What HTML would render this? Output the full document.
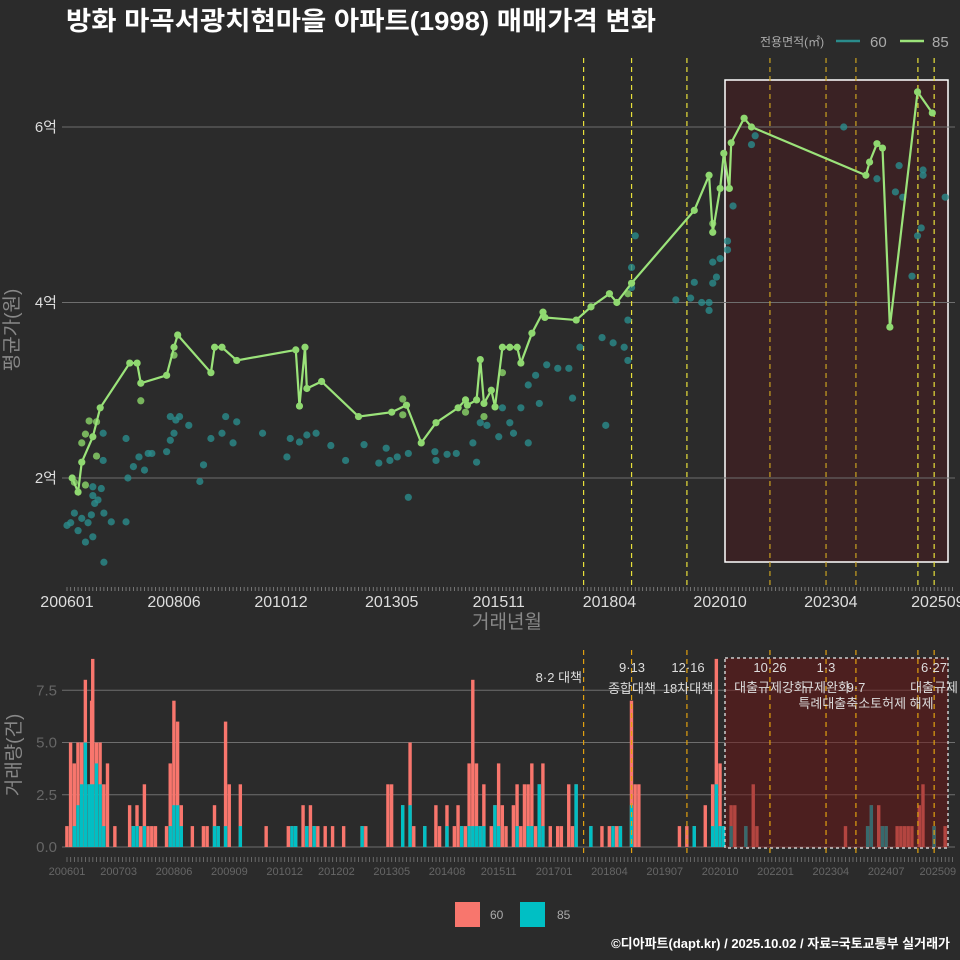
<!DOCTYPE html>
<html><head><meta charset="utf-8">
<style>
body{margin:0;background:#2b2b2b;}
svg{display:block;font-family:"Liberation Sans","Noto Sans CJK KR",sans-serif;}
</style></head>
<body>
<svg id="c" width="960" height="960" viewBox="0 0 960 960">
<rect width="960" height="960" fill="#2b2b2b"/>
<text x="66" y="30" font-size="26" font-weight="bold" fill="#ffffff" textLength="590" lengthAdjust="spacingAndGlyphs">방화 마곡서광치현마을 아파트(1998) 매매가격 변화</text>
<g>
<text x="760" y="46" font-size="12" fill="#aaaaaa">전용면적(㎡)</text>
<line x1="836" y1="41" x2="860" y2="41" stroke="#2a8c8c" stroke-width="2.5"/>
<text x="870" y="47" font-size="15" fill="#aaaaaa">60</text>
<line x1="900" y1="41" x2="924" y2="41" stroke="#9be37a" stroke-width="2.5"/>
<text x="932" y="47" font-size="15" fill="#aaaaaa">85</text>
</g>
<g id="topPanel"></g>
<g id="botPanel"></g>
<text x="18" y="330" font-size="19" fill="#888" transform="rotate(-90 18 330)" text-anchor="middle">평균가(원)</text>
<text x="507" y="628" font-size="19" fill="#888" text-anchor="middle">거래년월</text>
<text x="20" y="755" font-size="19" fill="#888" transform="rotate(-90 20 755)" text-anchor="middle">거래량(건)</text>
<g>
<rect x="455" y="902" width="25" height="25" fill="#f8766d"/>
<text x="490" y="919" font-size="12" fill="#aaa">60</text>
<rect x="520" y="902" width="25" height="25" fill="#00bfc4"/>
<text x="557" y="919" font-size="12" fill="#aaa">85</text>
</g>
<text x="950" y="948" font-size="13" font-weight="bold" fill="#ffffff" text-anchor="end">©디아파트(dapt.kr) / 2025.10.02 / 자료=국토교통부 실거래가</text>
</svg>
<script>
// month index from 200601 = 0
const line85M = [1.4,3,4,7,9,17,19,20,27,29,30,39,40,42,46,62,63,64.5,65,69,79,88,92,96,100,106,108,108.5,111,112,113,115,116,118,120,122,123,126,129,129.5,138,142,147,149,153,170,174,175,177,178,179.5,180,183.5,185.5,216.5,217.5,219.5,221,223,230.5,234.5];
const line85V = [2.0,1.84,2.18,2.47,2.8,3.31,3.31,3.08,3.17,3.49,3.63,3.2,3.49,3.49,3.34,3.46,2.82,3.49,3.02,3.1,2.7,2.75,2.83,2.4,2.63,2.8,2.89,2.83,2.89,3.35,2.85,3.0,2.81,3.49,3.49,3.49,3.31,3.65,3.89,3.83,3.8,3.95,4.1,4.0,4.22,5.05,5.45,4.8,5.3,5.7,5.3,5.82,6.1,6.0,5.45,5.6,5.81,5.76,3.72,6.4,6.16];
const extra85M = [4,5,6,8,8,5,2,20,29,91,91,108,113,118,152,175];
const extra85V = [2.4,2.5,2.65,2.64,2.25,1.92,1.95,2.88,3.4,2.9,2.72,2.75,2.7,3.2,4.1,4.9];
const pts60M = [0,1,2,3,4,5,5.7,6.6,7,7,7,7.5,8.4,9.3,9.8,9.8,10,10,12,16,16,16.5,18,19.5,21,22,23,27,28,29,29.5,30.5,28,33,36,37,39,42,43,45,46,53,59.6,60.5,63,65,67.5,71.5,75.5,80.5,84.5,86.5,87.5,89.5,92.5,92.5,99.7,100,103,105.5,110,111,112,113.8,117,118,120,121,123,125,125,127,128,130,133,136,137,139,145,146,148,151,152,152,153,153,154,165,169,170,172,174,174,175,175,176,177,179,179,180.5,185.5,186.5,210.5,219.5,224.5,225.5,226.5,229,230.5,231.5,232,232,238];
const pts60V = [1.46,1.49,1.6,1.4,1.54,1.27,1.49,1.58,1.33,1.9,1.8,1.71,1.75,1.88,2.2,2.51,1.04,1.6,1.5,1.5,2.45,2.0,2.13,2.24,2.09,2.28,2.28,2.3,2.43,2.51,2.66,2.7,2.7,2.6,1.96,2.15,2.45,2.51,2.7,2.4,2.64,2.51,2.24,2.45,2.41,2.49,2.51,2.37,2.2,2.38,2.17,2.34,2.2,2.24,2.28,1.78,2.3,2.2,2.27,2.28,2.4,2.18,2.63,2.6,2.47,2.8,2.63,2.51,2.8,2.4,3.06,3.17,2.85,3.29,3.25,3.25,2.91,3.49,3.6,2.6,3.54,3.49,3.34,3.8,4.17,4.4,4.76,4.03,4.05,4.23,4.0,4.0,3.91,4.22,4.46,4.29,4.5,4.6,4.7,5.1,5.8,5.9,6.0,5.41,5.26,5.56,5.2,4.3,4.76,4.85,5.51,5.45,5.2];
const volM = [0,1,2,3,4,5,6,6.7,7,8,9,10,11,13,17,18,19,20,21,22,23,24,27,28,29,30,31,34,37,38,40,41,43,44,47,54,60,61,62,64,65,66,67,68,70,72,75,80,81,87,88,91,93,94,97,100,101,103,105,106,107,108,109,110,111,112,113,115,116,117,118,119,121,122,123,124,125,126,127,128,129,131,133,134,136,137,138,142,145,147,148,149,150,153,154,155,166,168,170,173,175,176,177,178,180,181,184,186,187,211,217,218,220,221,222,225,226,227,228,229,231,232,235,238];
const volTotal = [1,5,4,5,5,8,3,7,9,5,5,3,4,1,2,1,2,1,3,1,1,1,1,4,7,6,2,1,1,1,2,1,6,3,3,1,1,1,1,2,1,2,1,1,1,1,1,1,1,3,3,2,5,1,1,2,1,2,1,2,1,1,4,8,4,1,3,1,2,4,2,1,2,3,1,3,3,4,1,3,4,1,1,1,3,1,3,1,1,1,1,1,1,7,3,3,1,1,1,2,3,9,4,1,2,2,1,3,1,1,1,2,2,1,1,1,1,1,1,1,2,3,1,1];
const vol85 = [0,0,1,2,3,5,3,3,3,4,3,1,0,0,0,1,1,0,1,0,0,0,0,1,2,2,1,0,0,0,1,1,1,0,1,0,0,1,1,0,1,0,1,0,0,0,0,1,0,0,0,2,2,0,1,0,0,1,0,0,1,0,1,1,1,1,1,0,2,1,0,0,0,1,0,0,1,1,0,3,1,0,0,0,0,0,3,1,0,0,1,0,1,2,0,0,0,0,1,0,1,3,1,1,1,0,1,0,0,0,1,2,0,1,1,0,0,0,0,0,0,0,1,0];
const policyM = [140,153,168,190.5,205.7,213.8,230.6,235];
const yTicksTop = [2,4,6];
const yTickLabelsTop = ["2억","4억","6억"];
const yTicksBot = [0,2.5,5,7.5];
const yTickLabelsBot = ["0.0","2.5","5.0","7.5"];
const xTickM = [0,29,58,88,117,147,177,207,236];
const xTickLabelsTop = ["200601","200806","201012","201305","201511","201804","202010","202304","202509"];
const xTickMBot = [0,14,29,44,59,73,88,103,117,132,147,162,177,192,207,222,236];
const xTickLabelsBot = ["200601","200703","200806","200909","201012","201202","201305","201408","201511","201701","201804","201907","202010","202201","202304","202407","202509"];

const NS="http://www.w3.org/2000/svg";
function mk(p,tag,a){const e=document.createElementNS(NS,tag);for(const k in a)e.setAttribute(k,a[k]);p.appendChild(e);return e;}
const X=m=>67+m*3.69;
const YT=v=>478-(v-2)*87.75;
const YB=v=>847-v*20.9;
const topG=document.getElementById('topPanel'), botG=document.getElementById('botPanel');

let r=mk(topG,'rect',{x:725,y:80,width:223,height:482,fill:'#3a2224',stroke:'#ffffff','stroke-width':1.5});


yTicksTop.forEach((v,i)=>{
  let g=mk(topG,'line',{x1:62,x2:955,y1:YT(v),y2:YT(v),stroke:'#6e6e6e','stroke-width':1});
  
  
  let t=mk(topG,'text',{x:57,y:YT(v)+5,'font-size':15,fill:'#dddddd','text-anchor':'end'});t.textContent=yTickLabelsTop[i];
  
  
});
policyM.forEach((m,i)=>{
  let l=mk(topG,'line',{x1:X(m),x2:X(m),y1:58,y2:585,stroke:i<3||i>5?'#e8e03a':'#c8a020','stroke-width':1.2,'stroke-dasharray':'5,4'});
  
  
});
pts60M.forEach((m,i)=>{
  let c=mk(topG,'circle',{cx:X(m),cy:YT(pts60V[i]),r:3.6,fill:'#2a8c8c','fill-opacity':0.8});
  
  
});
extra85M.forEach((m,i)=>{
  let c=mk(topG,'circle',{cx:X(m),cy:YT(extra85V[i]),r:3.6,fill:'#86cc66','fill-opacity':0.85});
  
  
});
let pl=mk(topG,'polyline',{points:line85M.map((m,i)=>X(m)+','+YT(line85V[i])).join(' '),fill:'none',stroke:'#9be37a','stroke-width':2.2});


line85M.forEach((m,i)=>{
  let c=mk(topG,'circle',{cx:X(m),cy:YT(line85V[i]),r:3.6,fill:'#8fd870'});
  
  
});
for(let m=0;m<=240;m++){mk(topG,'line',{x1:X(m),x2:X(m),y1:587,y2:591,stroke:'#888','stroke-width':0.8});}
xTickM.forEach((m,i)=>{
  let t=mk(topG,'text',{x:X(m),y:607,'font-size':16,fill:'#dddddd','text-anchor':'middle'});t.textContent=xTickLabelsTop[i];
  
  
});

yTicksBot.forEach((v,i)=>{
  let g=mk(botG,'line',{x1:62,x2:955,y1:YB(v),y2:YB(v),stroke:'#6e6e6e','stroke-width':1});
  
  
  let t=mk(botG,'text',{x:57,y:YB(v)+5,'font-size':15,fill:'#666','text-anchor':'end'});t.textContent=yTickLabelsBot[i];
  
  
});
volM.forEach((m,i)=>{
  let b=mk(botG,'rect',{x:X(m)-1.8,y:YB(volTotal[i]),width:3.4,height:volTotal[i]*20.9,fill:'#f8766d'});
  
  
  if(vol85[i]>0){
    let c=mk(botG,'rect',{x:X(m)-1.8,y:YB(vol85[i]),width:3.4,height:vol85[i]*20.9,fill:'#00bfc4'});
    
    
  }
});
let r2=mk(botG,'rect',{x:725,y:658,width:223,height:190,fill:'rgba(110,20,20,0.5)',stroke:'#cccccc','stroke-width':1.5,'stroke-dasharray':'3,3'});


policyM.forEach(m=>{
  let l=mk(botG,'line',{x1:X(m),x2:X(m),y1:650,y2:857,stroke:'#e0a010','stroke-width':1.2,'stroke-dasharray':'5,4'});
  
  
});
const ann=[[582,682,'8·2 대책','end'],[632,672,'9·13','middle'],[632,693,'종합대책','middle'],[688,672,'12·16','middle'],[688,693,'18차대책','middle'],[770,672,'10·26','middle'],[770,692,'대출규제강화','middle'],[826,672,'1·3','middle'],[826,692,'규제완화','middle'],[856,692,'9·7','middle'],[866,708,'특례대출축소토허제 해제','middle'],[934,672,'6·27','middle'],[934,692,'대출규제','middle']];
ann.forEach(a=>{
  let t=mk(botG,'text',{x:a[0],y:a[1],'font-size':13,fill:'#dddddd','text-anchor':a[3]});t.textContent=a[2];
  
  
});
for(let m=0;m<=240;m++){mk(botG,'line',{x1:X(m),x2:X(m),y1:857,y2:862,stroke:'#777','stroke-width':0.8});}
xTickMBot.forEach((m,i)=>{
  let t=mk(botG,'text',{x:X(m),y:875,'font-size':11,fill:'#666','text-anchor':'middle'});t.textContent=xTickLabelsBot[i];
  
  
});
</script>
</body></html>
